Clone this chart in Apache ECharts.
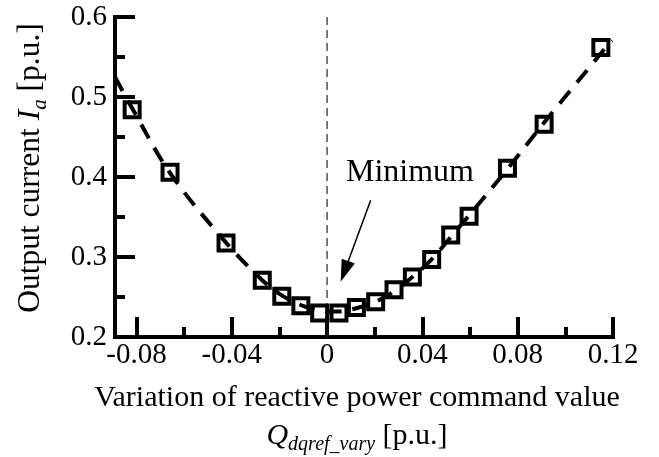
<!DOCTYPE html>
<html><head><meta charset="utf-8">
<script src="https://cdn.jsdelivr.net/npm/echarts@6/dist/echarts.min.js"></script>
<style>html,body{margin:0;padding:0;background:#fff}#c{width:659px;height:457px}</style>
</head><body><div id="c"></div>
<script>
// ---- data ----
const xTicks = [-0.08, -0.04, 0, 0.04, 0.08, 0.12];
const xMinorTicks = [-0.06, -0.02, 0.02, 0.06, 0.10];
const yTicks = [0.2, 0.3, 0.4, 0.5, 0.6];
const markerX = [-0.0818, -0.0659, -0.0424, -0.0272, -0.0190, -0.0110, -0.0031, 0.0050, 0.0123, 0.0204, 0.0281, 0.0358, 0.0439, 0.0519, 0.0596, 0.0757, 0.0911, 0.1149];
const markerY = [0.484, 0.406, 0.3175, 0.271, 0.251, 0.239, 0.230, 0.230, 0.237, 0.244, 0.259, 0.275, 0.297, 0.3275, 0.351, 0.411, 0.466, 0.562];
const curveX = [-0.089, -0.0818, -0.0659, -0.0424, -0.0272, -0.0190, -0.0110, -0.0031, 0.0050, 0.0123, 0.0204, 0.0281, 0.0358, 0.0439, 0.0519, 0.0596, 0.0757, 0.0911, 0.1195];
const curveY = [0.525, 0.486, 0.405, 0.318, 0.271, 0.252, 0.240, 0.233, 0.232, 0.236, 0.244, 0.257, 0.275, 0.297, 0.325, 0.352, 0.410, 0.468, 0.571];
const zeroLineX = [0, 0];
const zeroLineY = [0.2, 0.6];
const arrowFrom = [0.0183, 0.371];
const arrowTo = [0.0073, 0.282];
const minLabelPos = [0.0348, 0.405];
const minLabelText = 'Minimum';

const FONT = "'Liberation Serif','Times New Roman',serif";
const chart = echarts.init(document.getElementById('c'), null, {renderer: 'canvas'});
const pairs = (xs, ys) => xs.map((x, i) => [x, ys[i]]);

chart.setOption({
  animation: false,
  backgroundColor: '#fff',
  textStyle: {fontFamily: FONT, color: '#000'},
  grid: {left: 115, right: 46, top: 17, bottom: 120, containLabel: false, outerBoundsMode: 'none'},
  xAxis: [{
    type: 'value', min: -0.089, max: 0.12, position: 'bottom',
    axisLine: {show: true, onZero: false, lineStyle: {color: '#000', width: 4, cap: 'square'}},
    axisTick: {show: true, inside: true, length: 20, customValues: xTicks, lineStyle: {color: '#000', width: 4}},
    axisLabel: {show: true, customValues: xTicks, fontSize: 29, color: '#000', fontFamily: FONT, margin: 4,
      formatter: v => (Math.abs(v) < 1e-9 ? '0' : v.toFixed(2))},
    splitLine: {show: false},
    name: '{t|Variation of reactive power command value}\n{q|Q}{s|dqref_vary}{t| [p.u.]}',
    nameLocation: 'middle', nameGap: 42,
    nameTextStyle: {
      fontFamily: FONT, color: '#000', padding: [0, 14, 0, 0],
      rich: {
        t: {fontFamily: FONT, fontSize: 30, color: '#000', lineHeight: 38},
        q: {fontFamily: FONT, fontSize: 30, fontStyle: 'italic', color: '#000', lineHeight: 38},
        s: {fontFamily: FONT, fontSize: 20, fontStyle: 'italic', color: '#000', lineHeight: 27, verticalAlign: 'bottom'}
      }
    }
  }, {
    type: 'value', min: -0.089, max: 0.12, position: 'bottom', offset: 0,
    axisLine: {show: false, onZero: false},
    axisTick: {show: true, inside: true, length: 10, customValues: xMinorTicks, lineStyle: {color: '#000', width: 4}},
    axisLabel: {show: false},
    splitLine: {show: false}
  }],
  yAxis: {
    type: 'value', min: 0.2, max: 0.6, interval: 0.1, position: 'left',
    axisLine: {show: true, onZero: false, lineStyle: {color: '#000', width: 4, cap: 'square'}},
    axisTick: {show: true, inside: true, length: 20, lineStyle: {color: '#000', width: 4}},
    minorTick: {show: true, splitNumber: 2, length: 10, lineStyle: {color: '#000', width: 4}},
    axisLabel: {fontSize: 29, color: '#000', fontFamily: FONT, margin: 8, formatter: v => v.toFixed(1)},
    splitLine: {show: false}, minorSplitLine: {show: false},
    name: '{t|Output current }{i|I}{s|a}{t| [p.u.]}',
    nameLocation: 'middle', nameRotate: 90, nameGap: 64,
    nameTextStyle: {
      fontFamily: FONT, color: '#000', padding: [0, 0, 0, 18],
      rich: {
        t: {fontFamily: FONT, fontSize: 31.5, color: '#000', lineHeight: 40},
        i: {fontFamily: FONT, fontSize: 31.5, fontStyle: 'italic', color: '#000', lineHeight: 40},
        s: {fontFamily: FONT, fontSize: 21, fontStyle: 'italic', color: '#000', lineHeight: 28, verticalAlign: 'bottom'}
      }
    }
  },
  series: [{
    name: 'zero', type: 'line', data: pairs(zeroLineX, zeroLineY), showSymbol: false, silent: true,
    lineStyle: {color: '#222', width: 1.2, type: [8, 5]}, z: 1,
    markLine: {
      silent: true, animation: false,
      lineStyle: {color: '#000', width: 1.5, type: 'solid'},
      label: {show: false},
      data: [[{coord: arrowFrom, symbol: 'none'}, {coord: arrowTo, symbol: 'triangle', symbolSize: [14, 22]}]]
    }
  }, {
    name: 'markers', type: 'scatter', data: pairs(markerX, markerY),
    symbol: 'rect', symbolSize: 15,
    itemStyle: {color: 'rgba(0,0,0,0)', borderColor: '#000', borderWidth: 4, opacity: 1}, z: 2
  }, {
    name: 'curve', type: 'line', data: pairs(curveX, curveY), smooth: 0.35, showSymbol: false,
    lineStyle: {color: '#000', width: 4, type: [16, 11]}, z: 3
  }, {
    name: 'label', type: 'scatter', data: [minLabelPos], symbolSize: 0, silent: true,
    itemStyle: {opacity: 1},
    label: {show: true, position: 'inside', formatter: minLabelText, fontSize: 32, color: '#000', fontFamily: FONT}
  }]
});
</script></body></html>
